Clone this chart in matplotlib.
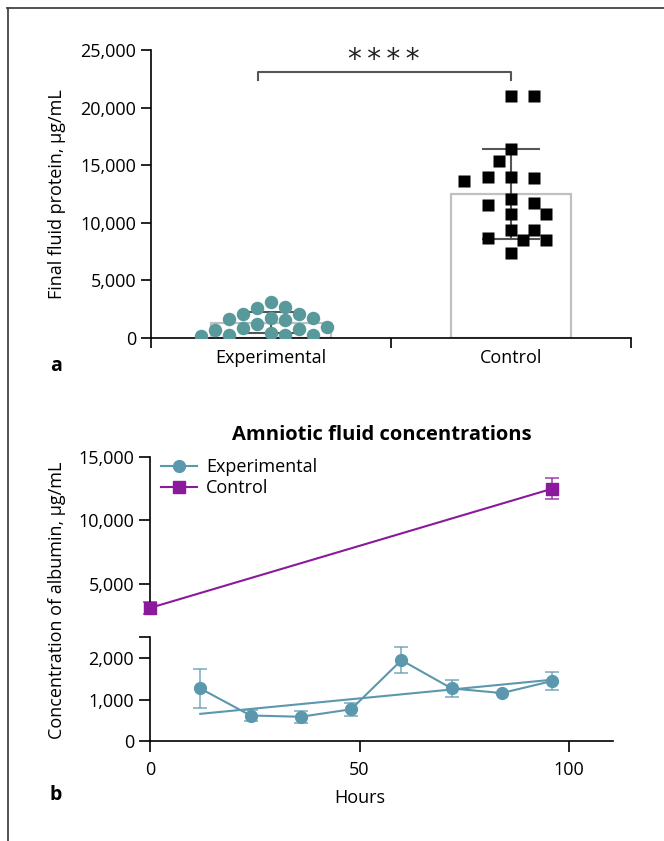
import numpy as np
import matplotlib
matplotlib.use("Agg")
from matplotlib import pyplot as plt
from matplotlib.lines import Line2D
from matplotlib.ticker import FuncFormatter, FixedLocator

plt.rcParams['font.family'] = ['Open Sans', 'DejaVu Sans']
plt.rcParams['font.size'] = 13

# ---- panel a: final fluid protein (ug/mL) ----
groups = ["Experimental", "Control"]
exp_protein = [1650, 260, 980, 1760, 690, 2060, 900, 3150, 1760, 200,
               2060, 810, 2630, 260, 2720, 1560, 400, 1210, 230]
ctrl_protein = [21030, 21000, 16380, 15400, 13900, 13970, 13650, 13970, 11750, 12100,
                11570, 10790, 10790, 9400, 9400, 8700, 8530, 8530, 7400]
sig_label = "****"

# ---- panel b: amniotic albumin over time ----
exp_hours = [12, 24, 36, 48, 60, 72, 84, 96]
exp_albumin = [1270, 620, 590, 770, 1950, 1270, 1160, 1450]
exp_err = [470, 130, 150, 150, 320, 210, 0, 220]
trend_hours = [12, 96]
trend_albumin = [660, 1480]
ctrl_hours = [0, 96]
ctrl_albumin = [3100, 12500]
ctrl_err = [500, 820]

TEAL = "#589a9b"
BLUE = "#5b98ad"
PURPLE = "#8b199b"
DPI = 100


def swarm_offsets(vals, px_per_val, step_px, size_px, spread=1.0):
    """greedy beeswarm with an elliptic keep-out zone, offsets in px"""
    vals = np.asarray(vals, dtype=float)
    order = np.argsort(vals)[::-1]
    a = spread * size_px
    b = size_px * 0.97
    placed = []
    offs = np.zeros(len(vals))
    for i in order:
        y = vals[i] * px_per_val
        # try the lighter side first so the swarm stays balanced
        sign = -1 if sum(p[0] for p in placed) > 0 else 1
        cands = [0.0]
        for j in range(1, 10):
            cands += [sign * j * step_px, -sign * j * step_px]
        for c in cands:
            if all(((px - c) / a) ** 2 + ((py - y) / b) ** 2 >= 1 for px, py in placed):
                break
        offs[i] = c
        placed.append((c, y))
    return offs


fig = plt.figure(figsize=(664 / DPI, 841 / DPI), dpi=DPI)

# frame lines (top and left)
fig.add_artist(Line2D([7 / 664, 1], [1 - 7.5 / 841] * 2, color="#444444", lw=1.3))
fig.add_artist(Line2D([8 / 664] * 2, [0, 1 - 7.5 / 841], color="#444444", lw=1.3))

# ---------------- panel a ----------------
ax = fig.add_axes([151 / 664, 1 - 338 / 841, 480 / 664, 288 / 841])
px_per_x = 480 / 2.0
px_per_y = 288 / 25000.0

for i, vals in enumerate([exp_protein, ctrl_protein]):
    vals = np.array(vals)
    m = vals.mean()
    sd = vals.std(ddof=1)
    ax.bar(i, m, width=0.5, facecolor="white", edgecolor="#c0c0c0", linewidth=1.6, zorder=1)
    if i == 0:
        offs = swarm_offsets(vals, px_per_y, 14, 13.5, spread=1.0)
        ax.plot(i + offs / px_per_x, vals, "o", ms=9.7, color=TEAL, mec="none", zorder=3)
    else:
        offs = swarm_offsets(vals, px_per_y, 11.7, 12, spread=1.9)
        ax.plot(i + offs / px_per_x, vals, "s", ms=8.6, color="black", mec="none", zorder=3)
    ax.errorbar(i, m, yerr=sd, fmt="none", ecolor="#555555", elinewidth=1.5,
                capsize=21, capthick=1.5, zorder=2)

# significance bracket
ax.plot([-0.055, -0.055, 1.0, 1.0], [22400, 23060, 23060, 22400], color="#555555", lw=1.5, clip_on=False)
ax.text(0.47, 24150, "\u2009".join(sig_label), ha="center", va="center", fontsize=20,
        family="DejaVu Sans", color="#222222")

ax.set_xlim(-0.5, 1.5)
ax.set_ylim(0, 25000)
ax.set_yticks(np.arange(0, 25001, 5000))
ax.yaxis.set_major_formatter(FuncFormatter(lambda v, _: f"{v:,.0f}"))
ax.set_xticks([0, 1])
ax.set_xticklabels(groups)
ax.xaxis.set_minor_locator(FixedLocator([-0.5, 0.5, 1.5]))
ax.tick_params(axis="x", which="major", length=0, pad=8)
ax.tick_params(axis="x", which="minor", length=7, width=1.2)
ax.tick_params(axis="y", length=7, width=1.2)
for s in ["top", "right"]:
    ax.spines[s].set_visible(False)
for s in ["left", "bottom"]:
    ax.spines[s].set_linewidth(1.2)
fig.text(57 / 664, 1 - 194 / 841, "Final fluid protein, μg/mL", rotation=90,
         ha="center", va="center", fontsize=13)
fig.text(56 / 664, 1 - 366 / 841, "a", fontsize=14, fontweight="bold", ha="center", va="center")

# ---------------- panel b ----------------
ax_hi = fig.add_axes([150 / 664, 1 - 613 / 841, 463 / 664, 156 / 841])
ax_lo = fig.add_axes([150 / 664, 1 - 741.3 / 841, 463 / 664, 104 / 841], sharex=ax_hi)

ctrl_line, = ax_hi.plot(ctrl_hours, ctrl_albumin, "-s", color=PURPLE, ms=9, lw=1.5,
                        clip_on=False, zorder=3)
ax_hi.errorbar(ctrl_hours, ctrl_albumin, yerr=ctrl_err, fmt="none", ecolor=PURPLE,
               alpha=0.7, elinewidth=1.3, capsize=5, capthick=1.3, clip_on=False)

exp_line, = ax_lo.plot(exp_hours, exp_albumin, "-o", color=BLUE, ms=8.5, lw=1.5,
                       clip_on=False, zorder=3)
ax_lo.errorbar(exp_hours, exp_albumin, yerr=exp_err, fmt="none", ecolor=BLUE,
               alpha=0.7, elinewidth=1.3, capsize=5, capthick=1.3, clip_on=False)
ax_lo.plot(trend_hours, trend_albumin, "-", color=BLUE, lw=1.5, zorder=2)

ax_hi.set_xlim(0, 110.5)
ax_hi.set_ylim(2700, 15000)
ax_hi.set_yticks([5000, 10000, 15000])
ax_lo.set_ylim(0, 2500)
ax_lo.set_yticks([0, 1000, 2000])
ax_lo.yaxis.set_minor_locator(FixedLocator([2500]))
ax_lo.set_xticks([0, 50, 100])
for a in (ax_hi, ax_lo):
    a.yaxis.set_major_formatter(FuncFormatter(lambda v, _: f"{v:,.0f}"))
    a.tick_params(axis="both", which="both", length=8, width=1.2)
    for s in ["top", "right"]:
        a.spines[s].set_visible(False)
    for s in ["left", "bottom"]:
        a.spines[s].set_linewidth(1.2)
ax_hi.spines["bottom"].set_visible(False)
ax_hi.tick_params(axis="x", which="both", bottom=False, labelbottom=False)
ax_lo.tick_params(axis="x", pad=6)

ax_lo.set_xlabel("Hours", fontsize=13)
ax_lo.xaxis.set_label_coords(0.454, -0.46)
ax_hi.set_title("Amniotic fluid concentrations", fontsize=14.5, fontweight="bold", pad=12)

ax_hi.legend([exp_line, ctrl_line], ["Experimental", "Control"], loc="upper left",
             bbox_to_anchor=(0.0, 1.06), frameon=False, fontsize=13, handlelength=2.0,
             handletextpad=0.5, labelspacing=0.15, borderaxespad=0.2)

fig.text(57 / 664, 1 - 600 / 841, "Concentration of albumin, μg/mL", rotation=90,
         ha="center", va="center", fontsize=13)
fig.text(56 / 664, 1 - 795 / 841, "b", fontsize=14, fontweight="bold", ha="center", va="center")

fig.savefig("out.png", dpi=DPI)
